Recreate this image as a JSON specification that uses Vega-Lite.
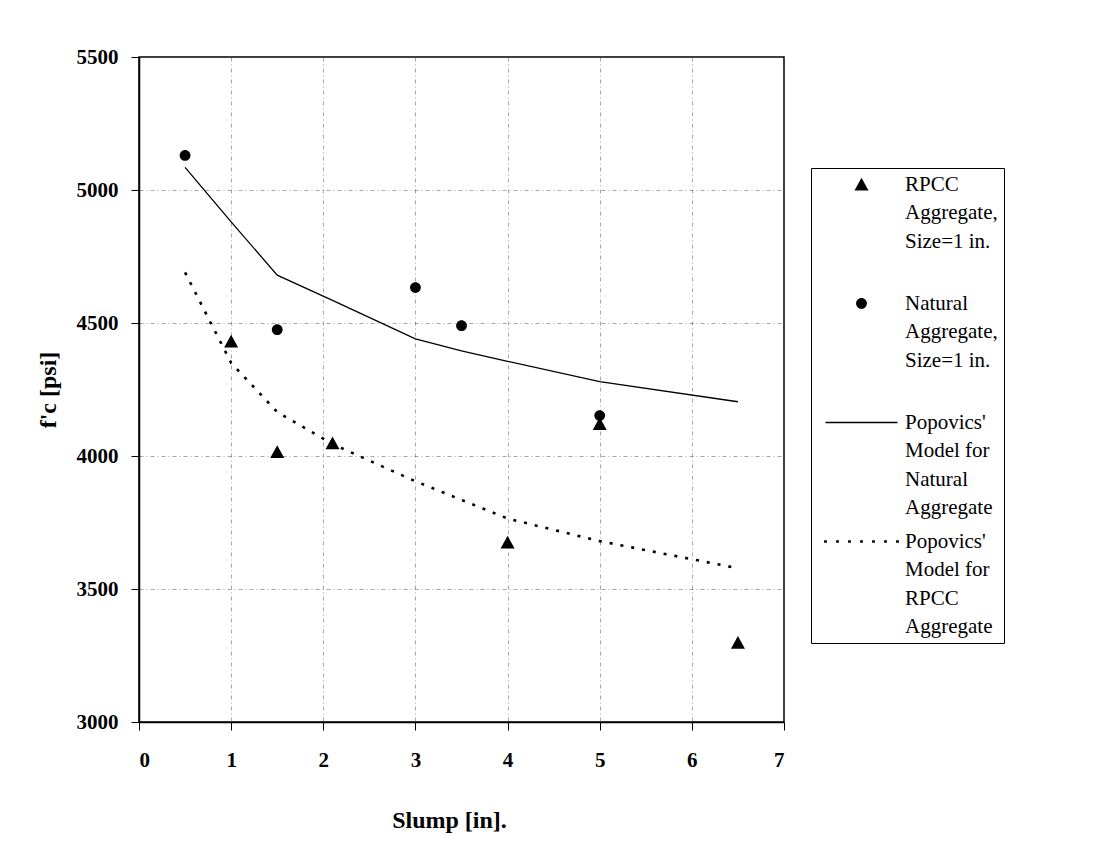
{
  "$schema": "https://vega.github.io/schema/vega-lite/v6.json",
  "width": 645,
  "height": 665,
  "autosize": {"type": "none"},
  "padding": {"left": 139, "top": 57, "right": 316, "bottom": 137},
  "background": "white",
  "config": {
    "font": "Liberation Serif",
    "view": {"stroke": "black", "strokeWidth": 1.5},
    "style": {"guide-label": {"lineHeight": 28.5}},
    "axis": {
      "domainColor": "black",
      "domainWidth": 1.5,
      "tickColor": "black",
      "tickWidth": 1,
      "tickSize": 8,
      "labelFont": "Liberation Serif",
      "labelFontWeight": "bold",
      "labelFontSize": 21,
      "labelColor": "black",
      "titleFont": "Liberation Serif",
      "titleFontWeight": "bold",
      "titleFontSize": 24,
      "titleColor": "black",
      "grid": true,
      "gridColor": "#444",
      "gridDash": [4, 3, 1, 3],
      "gridWidth": 0.8,
      "gridOpacity": 0.6
    },
    "legend": {
      "orient": "none",
      "legendX": 672,
      "legendY": 111,
      "strokeColor": "black",
      "strokeWidth": 1,
      "fillColor": "white",
      "padding": 6,
      "symbolOffset": 34,
      "labelOffset": 33,
      "rowPadding": 12,
      "labelFont": "Liberation Serif",
      "labelFontSize": 21,
      "labelColor": "black",
      "labelLimit": 400,
      "symbolSize": 400,
      "symbolStrokeWidth": 0,
      "symbolFillColor": "black",
      "symbolStrokeColor": "black"
    }
  },
  "datasets": {
    "obs": [
      {"series": "RPCC Aggregate", "slump": 1.0, "fc": 4430},
      {"series": "RPCC Aggregate", "slump": 1.5, "fc": 4015},
      {"series": "RPCC Aggregate", "slump": 2.1, "fc": 4048},
      {"series": "RPCC Aggregate", "slump": 4.0, "fc": 3675},
      {"series": "RPCC Aggregate", "slump": 5.0, "fc": 4120},
      {"series": "RPCC Aggregate", "slump": 6.5, "fc": 3298},
      {"series": "Natural Aggregate", "slump": 0.5, "fc": 5130},
      {"series": "Natural Aggregate", "slump": 1.5, "fc": 4475},
      {"series": "Natural Aggregate", "slump": 3.0, "fc": 4633},
      {"series": "Natural Aggregate", "slump": 3.5, "fc": 4490},
      {"series": "Natural Aggregate", "slump": 5.0, "fc": 4152}
    ],
    "model": [
      {"series": "Popovics Model Natural", "slump": 0.5, "fc": 5085},
      {"series": "Popovics Model Natural", "slump": 1.0, "fc": 4880},
      {"series": "Popovics Model Natural", "slump": 1.5, "fc": 4680},
      {"series": "Popovics Model Natural", "slump": 2.1, "fc": 4585},
      {"series": "Popovics Model Natural", "slump": 3.0, "fc": 4440},
      {"series": "Popovics Model Natural", "slump": 3.5, "fc": 4395},
      {"series": "Popovics Model Natural", "slump": 4.0, "fc": 4356},
      {"series": "Popovics Model Natural", "slump": 5.0, "fc": 4280},
      {"series": "Popovics Model Natural", "slump": 6.5, "fc": 4204},
      {"series": "Popovics Model RPCC", "slump": 0.5, "fc": 4690},
      {"series": "Popovics Model RPCC", "slump": 1.0, "fc": 4350},
      {"series": "Popovics Model RPCC", "slump": 1.5, "fc": 4165},
      {"series": "Popovics Model RPCC", "slump": 2.1, "fc": 4045},
      {"series": "Popovics Model RPCC", "slump": 3.0, "fc": 3905},
      {"series": "Popovics Model RPCC", "slump": 3.5, "fc": 3835},
      {"series": "Popovics Model RPCC", "slump": 4.0, "fc": 3765},
      {"series": "Popovics Model RPCC", "slump": 5.0, "fc": 3680},
      {"series": "Popovics Model RPCC", "slump": 6.5, "fc": 3578}
    ]
  },
  "encoding": {
    "x": {
      "field": "slump",
      "type": "quantitative",
      "scale": {"domain": [0, 7], "nice": false, "zero": false},
      "axis": {
        "title": "Slump [in].",
        "values": [0, 1, 2, 3, 4, 5, 6, 7],
        "format": "d",
        "labelPadding": 19,
        "titlePadding": 38,
        "titleX": 310
      }
    },
    "y": {
      "field": "fc",
      "type": "quantitative",
      "scale": {"domain": [3000, 5500], "nice": false, "zero": false},
      "axis": {
        "title": "f'c [psi]",
        "values": [3000, 3500, 4000, 4500, 5000, 5500],
        "format": "d",
        "labelPadding": 13,
        "titlePadding": 16
      }
    }
  },
  "layer": [
    {
      "data": {"name": "model"},
      "transform": [{"filter": "datum.series == 'Popovics Model Natural'"}],
      "mark": {"type": "line", "color": "black", "strokeWidth": 1.3},
      "encoding": {}
    },
    {
      "data": {"name": "model"},
      "transform": [{"filter": "datum.series == 'Popovics Model RPCC'"}],
      "mark": {"type": "line", "color": "black", "strokeWidth": 2.6, "strokeDash": [3, 8], "strokeCap": "butt"},
      "encoding": {}
    },
    {
      "data": {"name": "obs"},
      "mark": {"type": "point", "filled": true, "fill": "black", "strokeWidth": 0, "opacity": 1, "size": 400},
      "encoding": {
        "shape": {
          "field": "series",
          "type": "nominal",
          "scale": {
            "domain": ["RPCC Aggregate", "Natural Aggregate", "Popovics Model Natural", "Popovics Model RPCC"],
            "range": [
              "M0,-0.68L0.7,0.6L-0.7,0.6Z",
              "M-0.54,0A0.54,0.54,0,1,0,0.54,0A0.54,0.54,0,1,0,-0.54,0Z",
              "M-3.6,-0.065H3.6V0.065H-3.6Z",
              "M-3.74,-0.12H-3.46V0.12H-3.74Z M-2.54,-0.12H-2.26V0.12H-2.54Z M-1.34,-0.12H-1.06V0.12H-1.34Z M-0.14,-0.12H0.14V0.12H-0.14Z M1.06,-0.12H1.34V0.12H1.06Z M2.26,-0.12H2.54V0.12H2.26Z M3.46,-0.12H3.74V0.12H3.46Z"
            ]
          },
          "legend": {
            "title": null,
            "symbolSize": 400,
            "labelExpr": "datum.value == 'RPCC Aggregate' ? ['RPCC', 'Aggregate,', 'Size=1 in.', ''] : datum.value == 'Natural Aggregate' ? ['Natural', 'Aggregate,', 'Size=1 in.', ''] : datum.value == 'Popovics Model Natural' ? [\"Popovics'\", 'Model for', 'Natural', 'Aggregate'] : [\"Popovics'\", 'Model for', 'RPCC', 'Aggregate']"
          }
        }
      }
    }
  ]
}
